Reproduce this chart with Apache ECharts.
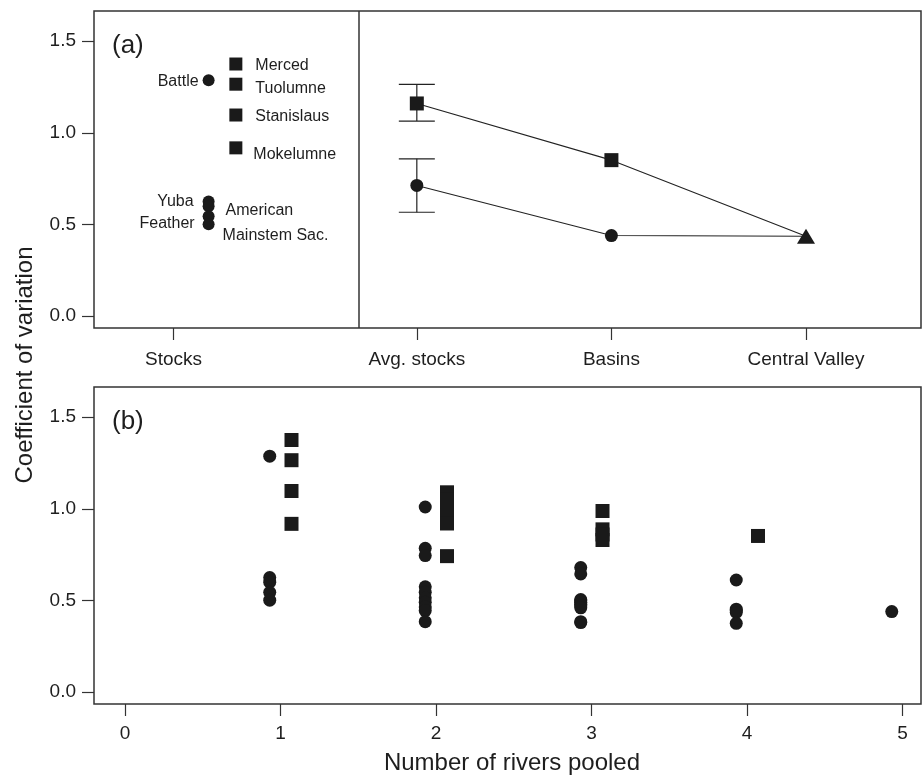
<!DOCTYPE html>
<html>
<head>
<meta charset="utf-8">
<script src="https://cdn.jsdelivr.net/npm/echarts@6/dist/echarts.min.js"></script>
<style>
  html, body { margin: 0; padding: 0; background: #fff; }
  #main { width: 922px; height: 775px; }
</style>
</head>
<body>
<div id="main"></div>
<script>
// ---- panel (a): individual stocks and pooled levels
var sacStockNames = ['Battle', 'Yuba', 'American', 'Feather', 'Mainstem Sac.'];
var sacStockCV = [1.287, 0.625, 0.600, 0.545, 0.502];
var sjStockNames = ['Merced', 'Tuolumne', 'Stanislaus', 'Mokelumne'];
var sjStockCV = [1.375, 1.265, 1.097, 0.918];

var levelNames = ['Stocks', 'Avg. stocks', 'Basins', 'Central Valley'];
var levelPos = [0.75, 2, 3, 4];
var sjLevelCV = [1.160, 0.851, 0.436];     // avg stocks, basins, central valley
var sacLevelCV = [0.713, 0.440, 0.436];
var valleyCV = 0.436;
var sjErr = [1.064, 1.264];
var sacErr = [0.567, 0.858];

// ---- panel (b): CV by number of rivers pooled
var poolN = [1, 2, 3, 4, 5];
var sacPoolCV = [
    [1.287, 0.625, 0.600, 0.545, 0.502],
    [1.010, 0.785, 0.745, 0.575, 0.545, 0.515, 0.490, 0.465, 0.445, 0.385],
    [0.680, 0.645, 0.505, 0.500, 0.490, 0.480, 0.470, 0.460, 0.385, 0.380],
    [0.612, 0.453, 0.445, 0.435, 0.376],
    [0.440]
];
var sjPoolCV = [
    [1.375, 1.265, 1.097, 0.918],
    [1.090, 1.050, 1.010, 0.965, 0.920, 0.742],
    [0.988, 0.888, 0.860, 0.830],
    [0.852],
    []
];
var yTicks = [0, 0.5, 1, 1.5];
var bTicks = [0, 1, 2, 3, 4, 5];

var ink = '#1a1a1a';
var txt = '#1e1e1e';
var fontFam = '"Liberation Sans", Arial, Helvetica, sans-serif';
var jitter = 0.07;

// label placement for stock names (position, distance, dy)
var stockLabelPlace = {
    'Battle': ['left', 4, 1],
    'Yuba': ['left', 9, 0],
    'American': ['right', 11, 4],
    'Feather': ['left', 8, 7],
    'Mainstem Sac.': ['right', 8, 11],
    'Merced': ['right', 13, 2],
    'Tuolumne': ['right', 13, 4],
    'Stanislaus': ['right', 13, 2],
    'Mokelumne': ['right', 11, 7]
};

function stockItems(names, vals, x) {
    return names.map(function (n, i) {
        var p = stockLabelPlace[n];
        return {
            name: n,
            value: [x, vals[i]],
            label: { show: true, position: p[0], distance: p[1], offset: [0, p[2]],
                formatter: '{b}', fontSize: 16, color: txt, fontFamily: fontFam }
        };
    });
}

function levelLine(vals) {
    return vals.map(function (v, i) {
        var item = { value: [levelPos[i + 1], v] };
        if (i === vals.length - 1) item.symbol = 'none';
        return item;
    });
}

function poolPoints(groups, dx) {
    var out = [];
    groups.forEach(function (g, i) {
        g.forEach(function (v) { out.push([poolN[i] + dx, v]); });
    });
    return out;
}

function renderErr(params, api) {
    var x = api.value(0), lo = api.value(1), hi = api.value(2);
    var top = api.coord([x, hi]), bot = api.coord([x, lo]);
    var w = 18;
    var st = { stroke: '#222', lineWidth: 1.2 };
    return {
        type: 'group',
        children: [
            { type: 'line', shape: { x1: top[0], y1: top[1], x2: bot[0], y2: bot[1] }, style: st },
            { type: 'line', shape: { x1: top[0] - w, y1: top[1], x2: top[0] + w, y2: top[1] }, style: st },
            { type: 'line', shape: { x1: bot[0] - w, y1: bot[1], x2: bot[0] + w, y2: bot[1] }, style: st }
        ]
    };
}

var tickStyle = { color: '#333', width: 1.2 };
var labelStyle = { fontSize: 19, color: txt, fontFamily: fontFam };

function yAxisCfg(gi) {
    return {
        type: 'value', gridIndex: gi, min: -0.064, max: 1.664,
        splitLine: { show: false }, axisLine: { show: false, onZero: false },
        axisTick: { show: true, length: 12, lineStyle: tickStyle, customValues: yTicks },
        axisLabel: Object.assign({ margin: 18, customValues: yTicks,
            formatter: function (v) { return v.toFixed(1); } }, labelStyle)
    };
}

var chart = echarts.init(document.getElementById('main'));
var option = {
    animation: false,
    backgroundColor: '#fff',
    grid: [
        { left: 94, top: 11, width: 827, height: 317, show: true, borderColor: '#333', borderWidth: 1.5 },
        { left: 94, top: 387, width: 827, height: 317, show: true, borderColor: '#333', borderWidth: 1.5 }
    ],
    xAxis: [
        {
            type: 'value', gridIndex: 0, min: 0.341, max: 4.591,
            splitLine: { show: false }, axisLine: { show: false, onZero: false },
            axisTick: { show: true, length: 12, lineStyle: tickStyle, customValues: levelPos },
            axisLabel: Object.assign({ margin: 22, customValues: levelPos,
                formatter: function (v) {
                    var i = levelPos.indexOf(v);
                    return i >= 0 ? levelNames[i] : '';
                } }, labelStyle)
        },
        {
            type: 'value', gridIndex: 1, min: -0.2, max: 5.118,
            splitLine: { show: false }, axisLine: { show: false, onZero: false },
            axisTick: { show: true, length: 12, lineStyle: tickStyle, customValues: bTicks },
            axisLabel: Object.assign({ margin: 20, customValues: bTicks }, labelStyle)
        }
    ],
    yAxis: [yAxisCfg(0), yAxisCfg(1)],
    graphic: [
        { type: 'text', left: 112, top: 33, style: { text: '(a)', fontSize: 26, fill: txt, fontFamily: fontFam } },
        { type: 'text', left: 112, top: 409, style: { text: '(b)', fontSize: 26, fill: txt, fontFamily: fontFam } },
        { type: 'text', x: 25, y: 365, rotation: Math.PI / 2,
          style: { text: 'Coefficient of variation', fontSize: 24, fill: txt, fontFamily: fontFam,
                   align: 'center', verticalAlign: 'middle' } },
        { type: 'text', x: 512, y: 763,
          style: { text: 'Number of rivers pooled', fontSize: 24, fill: txt, fontFamily: fontFam,
                   align: 'center', verticalAlign: 'middle' } }
    ],
    series: [
        {
            type: 'custom', xAxisIndex: 0, yAxisIndex: 0, z: 1,
            renderItem: renderErr,
            encode: { x: 0, y: [1, 2] },
            data: [[levelPos[1], sjErr[0], sjErr[1]], [levelPos[1], sacErr[0], sacErr[1]]],
            markLine: {
                silent: true, symbol: 'none', label: { show: false },
                lineStyle: { color: '#333', width: 1.5, type: 'solid' },
                data: [{ xAxis: 1.70 }]
            }
        },
        {
            type: 'line', xAxisIndex: 0, yAxisIndex: 0, z: 2,
            data: levelLine(sjLevelCV),
            symbol: 'rect', symbolSize: 14,
            itemStyle: { color: ink, opacity: 1 },
            lineStyle: { color: '#222', width: 1.1 }
        },
        {
            type: 'line', xAxisIndex: 0, yAxisIndex: 0, z: 2,
            data: levelLine(sacLevelCV),
            symbol: 'circle', symbolSize: 13,
            itemStyle: { color: ink, opacity: 1 },
            lineStyle: { color: '#222', width: 1.1 }
        },
        {
            type: 'scatter', xAxisIndex: 0, yAxisIndex: 0, z: 3,
            data: [[levelPos[3], valleyCV]],
            symbol: 'triangle', symbolSize: [18, 15],
            itemStyle: { color: ink, opacity: 1 }
        },
        {
            type: 'scatter', xAxisIndex: 0, yAxisIndex: 0, z: 3,
            data: stockItems(sacStockNames, sacStockCV, 1 - jitter),
            symbol: 'circle', symbolSize: 12,
            itemStyle: { color: ink, opacity: 1 }
        },
        {
            type: 'scatter', xAxisIndex: 0, yAxisIndex: 0, z: 3,
            data: stockItems(sjStockNames, sjStockCV, 1 + jitter),
            symbol: 'rect', symbolSize: 13,
            itemStyle: { color: ink, opacity: 1 }
        },
        {
            type: 'scatter', xAxisIndex: 1, yAxisIndex: 1,
            data: poolPoints(sacPoolCV, -jitter),
            symbol: 'circle', symbolSize: 13,
            itemStyle: { color: ink, opacity: 1 }
        },
        {
            type: 'scatter', xAxisIndex: 1, yAxisIndex: 1,
            data: poolPoints(sjPoolCV, jitter),
            symbol: 'rect', symbolSize: 14,
            itemStyle: { color: ink, opacity: 1 }
        }
    ]
};
chart.setOption(option);
</script>
</body>
</html>
